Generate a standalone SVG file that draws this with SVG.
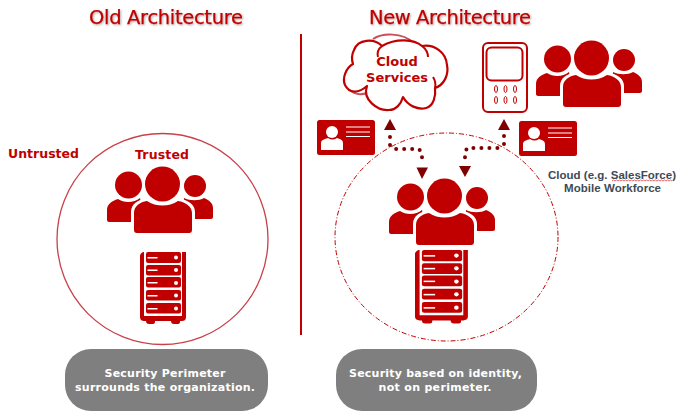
<svg xmlns="http://www.w3.org/2000/svg" width="680" height="412" viewBox="0 0 680 412">
<style>
.title{font:19.5px "DejaVu Sans",sans-serif;fill:#c00000;stroke:#c00000;stroke-width:0.25;filter:url(#sh)}
.lab{font:bold 12.5px "DejaVu Sans",sans-serif;fill:#c00000}
.pill{fill:#7f7f7f}
.pt{font:bold 11px "DejaVu Sans",sans-serif;fill:#fff;text-anchor:middle}
.note{font:bold 11.5px "Liberation Sans",Arial,sans-serif;fill:#404a55;text-anchor:middle}
.r{fill:#c00000}
.w{fill:#fff}
.dots{fill:none;stroke:#7f0000;stroke-width:4;stroke-linecap:round;stroke-dasharray:0 8}
.tip{fill:#7f0000}
</style>
<defs>
<filter id="sh" x="-5%" y="-20%" width="110%" height="150%"><feDropShadow dx="1" dy="1" stdDeviation="0.8" flood-color="#000" flood-opacity="0.35"/></filter>
<g id="people">
<circle class="r" cx="128.500" cy="185" r="13.500"/>
<circle class="r" cx="195" cy="186" r="11"/>
<path class="r" d="M107,220V210C107,204 112,201 118,199C124,203 134,203 140,198L145,222H109C108,222 107,221 107,220Z"/>
<path class="r" d="M213,217V208C213,203 209,200 204,198C199,201 190,201 184,198L182,219H211C212,219 213,218 213,217Z"/>
<path class="w" d="M131,233V212C131,204 138,200 146,198C155,205 170,205 179,198C187,200 195,204 195,212V233Z"/>
<circle class="r" cx="162.500" cy="184" r="17.500"/>
<path class="r" d="M134,230V213C134,206 140,202 147,201C156,207 169,207 178,201C186,202 192,207 192,213V230C192,232 191,233 189,233H137C135,233 134,232 134,230Z"/>
</g>
<g id="server">
<path class="r" d="M144,252V316H182V252H186V317C186,320 184,321 182,321H180V322C180,324 178,324 177,324H174C172,324 171,323 171,321H155V322C155,324 153,324 152,324H149C147,324 146,323 146,321H144C142,321 140,320 140,317V256C140,254 142,252 144,252Z"/>
<g>
<rect class="r" x="146" y="252" width="35" height="11" rx="2"/>
<rect class="r" x="146" y="265" width="35" height="10.500" rx="2"/>
<rect class="r" x="146" y="277" width="35" height="10.500" rx="2"/>
<rect class="r" x="146" y="290" width="35" height="10.500" rx="2"/>
<rect class="r" x="146" y="303" width="35" height="10.500" rx="2"/>
</g>
<g class="w">
<rect x="147.500" y="257" width="10" height="1.500"/><circle cx="176" cy="257.500" r="2"/>
<rect x="147.500" y="269.500" width="10" height="1.500"/><circle cx="176" cy="270" r="2"/>
<rect x="147.500" y="282" width="10" height="1.500"/><circle cx="176" cy="283" r="2"/>
<rect x="147.500" y="295" width="10" height="1.500"/><circle cx="176" cy="295.500" r="2"/>
<rect x="147.500" y="308" width="10" height="1.500"/><circle cx="176" cy="308.500" r="2"/>
</g>
</g>
<g id="card">
<rect class="r" x="317" y="120" width="58" height="35" rx="2.500"/>
<circle class="w" cx="332" cy="132" r="6"/>
<path class="w" d="M321,150V143C321,140 325,139 328,138C331,140 334,140 337,138C340,139 343,140 343,143V150Z"/>
<path d="M346,127H370M346,132H370M346,136.500H370" stroke="#fff" stroke-width="1"/>
</g>
</defs>

<rect width="680" height="412" fill="#fff"/>
<text class="title" x="89" y="24" textLength="154">Old Architecture</text>
<text class="title" x="369" y="24" textLength="162">New Architecture</text>
<line x1="301" y1="34" x2="301" y2="335" stroke="#c00000" stroke-width="2"/>

<g id="old-perimeter"><circle cx="162.500" cy="239" r="105.500" fill="none" stroke="#c9404a" stroke-width="1.300"/></g>
<g id="new-perimeter"><ellipse cx="446.500" cy="237" rx="111.500" ry="104" fill="none" stroke="#c00000" stroke-width="1" stroke-dasharray="5 2 1 2"/></g>

<g id="untrusted"><text class="lab" x="8" y="158" textLength="71">Untrusted</text></g>
<g id="trusted"><text class="lab" x="135" y="159" textLength="54">Trusted</text></g>
<g id="old-users"><use href="#people"/></g>
<g id="old-server"><use href="#server"/></g>

<g id="cloud">
<path d="M373,39C382,33 402,32 414,43M345,83C349,93 358,96 367,93" fill="none" stroke="#c9505a" stroke-width="2"/>
<path d="M367,86C362,100 378,111 389,110C396,110 401,104 403,97C408,106 418,110 426,108C434,106 436,95 435,88C444,85 449,75 447,65C446,52 434,44 422,46C414,39 396,38 382,46C374,38 358,39 354,50C351,56 352,61 353,64C346,68 342,78 345,85C349,93 358,94 367,86Z" fill="#fff" stroke="#c00000" stroke-width="2.200" stroke-linejoin="round"/>
<path d="M382,46C378,49 377,53 378,57M422,46C426,49 428,53 428,57M435,88C436,84 435,80 433,77" fill="none" stroke="#c00000" stroke-width="2"/>
<text class="lab" x="397" y="66" text-anchor="middle" style="font-size:13px">Cloud</text>
<text class="lab" x="397" y="82" text-anchor="middle" textLength="62" style="font-size:13px">Services</text>
</g>

<g id="phone">
<rect x="483" y="43" width="44" height="69" rx="5" fill="#fff" stroke="#c00000" stroke-width="2"/>
<rect x="486.500" y="47.500" width="36" height="33" rx="5" fill="none" stroke="#c00000" stroke-width="2"/>
<g fill="none" stroke="#c00000" stroke-width="1">
<ellipse cx="496" cy="89" rx="1.500" ry="3.500"/><ellipse cx="505.500" cy="89" rx="1.500" ry="3.500"/><ellipse cx="515" cy="89" rx="1.500" ry="3.500"/>
<ellipse cx="496" cy="100" rx="1.500" ry="3.500"/><ellipse cx="505.500" cy="100" rx="1.500" ry="3.500"/><ellipse cx="515" cy="100" rx="1.500" ry="3.500"/>
</g>
</g>
<g id="mobile-users"><use href="#people" x="429" y="-126"/></g>
<g id="card-left"><use href="#card"/></g>
<g id="card-right"><use href="#card" x="202" y="1"/></g>

<g id="connectors">
<path class="dots" d="M390,137V146L395,149H419L422,153V163"/>
<path class="dots" d="M504,136V144L499,148H467L465,153V162"/>
<path class="tip" d="M390,119L384,130H396Z"/>
<path class="tip" d="M422,179L416.500,167.500H428Z"/>
<path class="tip" d="M504,119L498,130H510Z"/>
<path class="tip" d="M465,177L459,166H471Z"/>
</g>

<g id="new-users"><use href="#people" x="282" y="12"/></g>
<g id="new-server"><use href="#server" transform="translate(415 250) scale(1.150 1.020) translate(-140 -252)"/></g>

<g id="note">
<text class="note" x="612" y="179" textLength="128">Cloud (e.g. SalesForce)</text>
<text class="note" x="612.500" y="192" textLength="97">Mobile Workforce</text>
<path d="M612,181l1.500,-1l1.500,1l1.500,-1l1.500,1l1.500,-1l1.500,1l1.500,-1l1.500,1l1.500,-1l1.500,1l1.500,-1l1.500,1l1.500,-1l1.500,1l1.500,-1l1.500,1l1.500,-1l1.500,1l1.500,-1l1.500,1l1.500,-1l1.500,1l1.500,-1l1.500,1l1.500,-1l1.500,1l1.500,-1l1.500,1l1.500,-1l1.500,1l1.500,-1l1.500,1l1.500,-1l1.500,1l1.500,-1l1.500,1l1.500,-1l1.500,1l1.500,-1l1.500,1" fill="none" stroke="#e04040" stroke-width="0.800"/>
</g>

<g id="pill-old">
<rect class="pill" x="65" y="349" width="203" height="62" rx="26"/>
<text class="pt" x="165" y="377" textLength="121">Security Perimeter</text>
<text class="pt" x="165" y="391" textLength="180">surrounds the organization.</text>
</g>
<g id="pill-new">
<rect class="pill" x="336" y="349" width="201" height="62" rx="26"/>
<text class="pt" x="435.500" y="377" textLength="173">Security based on identity,</text>
<text class="pt" x="435" y="391" textLength="113">not on perimeter.</text>
</g>
</svg>
